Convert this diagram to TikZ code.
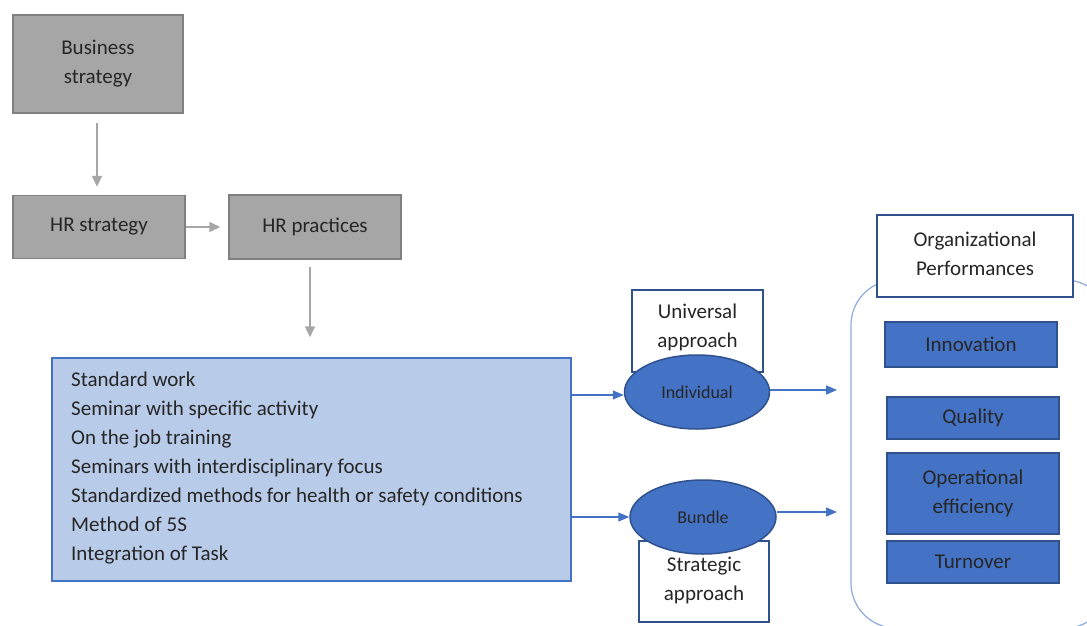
\documentclass[tikz,border=0pt]{standalone}
\usepackage{fontspec}
\setmainfont{Carlito}
\usetikzlibrary{arrows.meta,shapes.geometric,calc}
\definecolor{gfill}{HTML}{A6A6A6}
\definecolor{gdraw}{HTML}{808080}
\definecolor{garrow}{HTML}{A6A6A6}
\definecolor{lfill}{HTML}{B8CBE9}
\definecolor{bmain}{HTML}{4472C4}
\definecolor{bdark}{HTML}{2F528F}
\definecolor{blight}{HTML}{8FAADC}
\definecolor{txt}{HTML}{262626}
\tikzset{
  x=1pt,y=-1pt,
  every node/.style={font=\fontsize{21}{29}\selectfont, text=txt, inner sep=0pt},
  graybox/.style={draw=gdraw, fill=gfill, line width=1.5pt, align=center},
  bluebox/.style={draw=bdark, fill=bmain, line width=1.5pt, align=center},
  whitebox/.style={draw=bdark, fill=white, line width=1.5pt},
  oval/.style={ellipse, draw=bdark, fill=bmain, line width=1.5pt, font=\fontsize{18}{20}\selectfont},
  garr/.style={draw=garrow, line width=1.6pt, -{Triangle[length=11pt,width=10pt]}},
  barr/.style={draw=bmain, line width=1.3pt, -{Triangle[length=11pt,width=9pt]}},
  lbl/.style={align=center, fill=none, draw=none}
}
\begin{document}
\begin{tikzpicture}
\useasboundingbox (0,0) rectangle (1087,626);
% right rounded frame
\draw[blight, line width=1.2pt, rounded corners=45pt] (851,280) rectangle (1110,628);
% grey chain
\node[graybox, minimum width=170pt, minimum height=98pt] (bus) at (98,64) {Business\\strategy};
\node[graybox, minimum width=172pt, minimum height=63pt] (hrs) at (99,227) {HR strategy};
\node[graybox, minimum width=172pt, minimum height=64pt] (hrp) at (315,227) {HR practices};
% list box
\node[draw=bmain, fill=lfill, line width=1.5pt, minimum width=519pt, minimum height=223pt] (list) at (311.5,469.5) {};
\node[anchor=north west, align=left] (items) at (71,372) {Standard work\\Seminar with specific activity\\On the job training\\Seminars with interdisciplinary focus\\Standardized methods for health or safety conditions\\Method of 5S\\Integration of Task};
% approach boxes
\node[whitebox, minimum width=131pt, minimum height=82pt] (ubox) at (697.5,331) {};
\node[lbl] (utext) at (697.5,327.5) {Universal\\approach};
\node[whitebox, minimum width=130pt, minimum height=81pt] (sbox) at (704,581.5) {};
\node[lbl] (stext) at (704,580) {Strategic\\approach};
% ellipses
\node[oval, minimum width=145pt, minimum height=74pt] (ind) at (697,392) {Individual};
\node[oval, minimum width=146pt, minimum height=74pt] (bun) at (703,517) {Bundle};
% performance boxes
\node[whitebox, minimum width=196pt, minimum height=82pt] (org) at (975,256) {};
\node[lbl] (otext) at (975,253.5) {Organizational\\Performances};
\node[bluebox, minimum width=172pt, minimum height=45pt] (inn) at (971,344.5) {Innovation};
\node[bluebox, minimum width=172pt, minimum height=42pt] (qua) at (973,418) {Quality};
\node[bluebox, minimum width=172pt, minimum height=81pt] (ope) at (973,493.5) {Operational\\efficiency};
\node[bluebox, minimum width=172pt, minimum height=42pt] (tur) at (973,562) {Turnover};
% arrows
\draw[garr, shorten <=9pt, shorten >=8pt] (bus.south -| 97,0) -- (hrs.north -| 97,0);
\draw[garr, shorten >=8pt] (hrs.east) -- (hrp.west);
\draw[garr, shorten <=7pt, shorten >=20pt] ([xshift=-5pt]hrp.south) -- ([xshift=-5pt]hrp.south |- list.north);
\coordinate (t1) at (837,390);
\coordinate (t2) at (837,512);
\draw[barr] (list.east |- 0,395) -- (ind.west |- 0,395);
\draw[barr] (list.east |- bun.west) -- (bun.west);
\draw[barr] (ind.east |- t1) -- (t1);
\draw[barr] (bun.east |- t2) -- (t2);
\end{tikzpicture}
\end{document}
